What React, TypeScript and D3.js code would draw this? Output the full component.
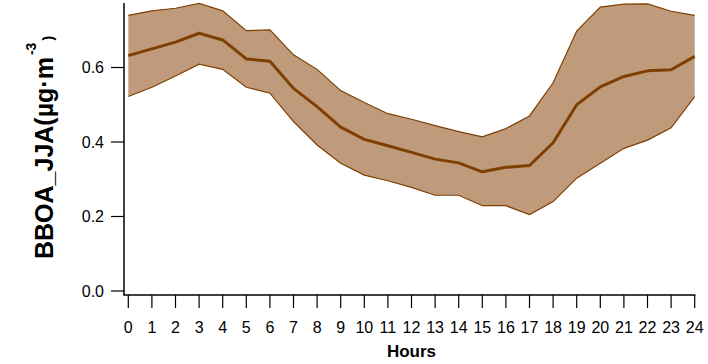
import React from "react";
import * as d3 from "d3";

// Diurnal cycle of BBOA (JJA), hourly mean with lower/upper bounds
const hours = d3.range(0, 25);
const meanValues = [
  0.632, 0.650, 0.668, 0.692, 0.674, 0.623, 0.617, 0.544, 0.495, 0.440,
  0.407, 0.390, 0.372, 0.354, 0.344, 0.320, 0.332, 0.337, 0.398, 0.500,
  0.548, 0.576, 0.591, 0.594, 0.630,
];
const upperValues = [
  0.740, 0.752, 0.759, 0.772, 0.752, 0.699, 0.701, 0.634, 0.595, 0.538,
  0.506, 0.476, 0.461, 0.444, 0.428, 0.414, 0.436, 0.470, 0.559, 0.698,
  0.762, 0.770, 0.771, 0.751, 0.740,
];
const lowerValues = [
  0.522, 0.547, 0.577, 0.609, 0.595, 0.547, 0.531, 0.455, 0.392, 0.343,
  0.311, 0.296, 0.278, 0.257, 0.257, 0.229, 0.229, 0.205, 0.240, 0.303,
  0.343, 0.383, 0.405, 0.438, 0.522,
];
const yTicks = [0, 0.2, 0.4, 0.6];

const W = 708;
const H = 364;
const FONT = "Liberation Sans, Arial, Helvetica, sans-serif";
const LINE = "#7f3f00";
const FILL = "#bf9b7c";

export default function App() {
  const x = d3.scaleLinear().domain([0, 24]).range([128.3, 694.7]);
  const y = d3.scaleLinear().domain([0, 0.2]).range([291, 216.5]);

  const rows = hours.map((h, i) => ({
    h,
    m: meanValues[i],
    lo: lowerValues[i],
    hi: upperValues[i],
  }));

  const area = d3
    .area<typeof rows[number]>()
    .x((d) => x(d.h))
    .y0((d) => y(d.lo))
    .y1((d) => y(d.hi));
  const upper = d3.line<typeof rows[number]>().x((d) => x(d.h)).y((d) => y(d.hi));
  const lower = d3.line<typeof rows[number]>().x((d) => x(d.h)).y((d) => y(d.lo));
  const mean = d3.line<typeof rows[number]>().x((d) => x(d.h)).y((d) => y(d.m));

  const axisX = 124;
  const axisY = 295;

  return (
    <svg
      width={W}
      height={H}
      style={{ position: "absolute", left: 0, top: 0 }}
      fontFamily={FONT}
    >
      <rect width={W} height={H} fill="#fff" />
      <path d={area(rows) ?? ""} fill={FILL} />
      <path d={upper(rows) ?? ""} fill="none" stroke={LINE} strokeWidth={1.2} />
      <path d={lower(rows) ?? ""} fill="none" stroke={LINE} strokeWidth={1.2} />
      <path d={mean(rows) ?? ""} fill="none" stroke={LINE} strokeWidth={3} strokeLinejoin="round" />

      {/* Y axis */}
      <line x1={axisX} x2={axisX} y1={3} y2={axisY} stroke="#000" strokeWidth={1.5} />
      {yTicks.map((t) => (
        <g key={t}>
          <line x1={111} x2={axisX} y1={y(t)} y2={y(t)} stroke="#000" strokeWidth={1.2} />
          <text
            x={104}
            y={y(t)}
            textAnchor="end"
            dominantBaseline="central"
            fontSize={16}
            fill="#000"
          >
            {t.toFixed(1)}
          </text>
        </g>
      ))}

      {/* X axis */}
      <line x1={axisX - 0.75} x2={x(24) + 0.75} y1={axisY} y2={axisY} stroke="#000" strokeWidth={1.5} />
      {hours.map((h) => (
        <g key={h}>
          <line x1={x(h)} x2={x(h)} y1={axisY} y2={308} stroke="#000" strokeWidth={1.2} />
          <text x={x(h)} y={332.5} textAnchor="middle" fontSize={16} fill="#000">
            {h}
          </text>
        </g>
      ))}

      <text
        x={x(12)}
        y={357}
        textAnchor="middle"
        fontSize={17}
        fontWeight="bold"
        fill="#000"
      >
        Hours
      </text>

      <text
        transform="translate(52.5,259) rotate(-90)"
        fontSize={25}
        fontWeight="bold"
        fill="#000"
      >
        BBOA_JJA(µg·m
        <tspan dx={2} dy={-17} fontSize={14}>-3</tspan>
        <tspan dx={2} dy={17} fontSize={14}>)</tspan>
      </text>
    </svg>
  );
}
